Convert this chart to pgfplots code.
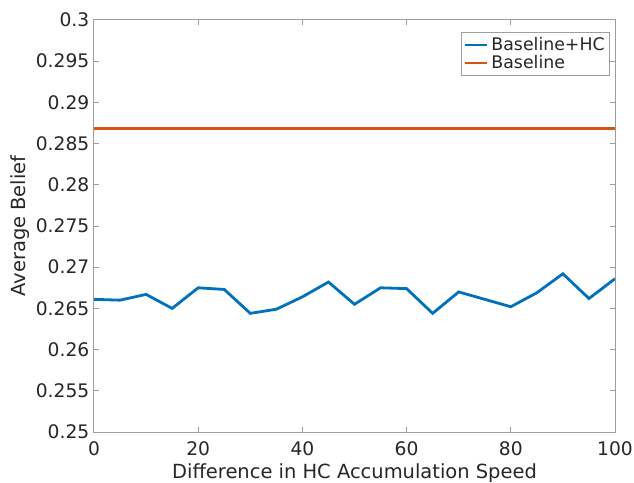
\documentclass[border=0pt]{standalone}
\usepackage{pgfplots}
\pgfplotsset{compat=1.18}
\usepackage{fontspec}
\setmainfont{DejaVu Sans}
\definecolor{mblue}{rgb}{0,0.447,0.741}
\definecolor{mred}{rgb}{0.85,0.325,0.098}
\definecolor{axgray}{rgb}{0.15,0.15,0.15}
\definecolor{linegray}{rgb}{0.62,0.62,0.62}
\begin{document}
\begin{tikzpicture}
\useasboundingbox (-70.5pt,-37.5pt) rectangle (405pt,324pt);
\begin{axis}[
  at={(0,0)}, anchor=south west,
  scale only axis,
  width=390.75pt, height=309pt,
  xmin=0, xmax=100, ymin=0.25, ymax=0.3,
  xtick={0,20,40,60,80,100},
  ytick={0.25,0.255,0.26,0.265,0.27,0.275,0.28,0.285,0.29,0.295,0.3},
  scaled y ticks=false,
  yticklabel style={/pgf/number format/fixed,/pgf/number format/precision=3},
  /pgf/number format/assume math mode=true,
  tick align=inside,
  major tick length=3.5pt,
  axis line style={linegray, line width=0.75pt},
  tick style={linegray, line width=0.75pt},
  ticklabel style={font=\fontsize{14}{16}\selectfont, text=axgray},
  xticklabel style={yshift=-4pt},
  label style={font=\fontsize{14.6}{16}\selectfont, text=axgray},
  xlabel={Difference in HC Accumulation Speed},
  ylabel={Average Belief},
  xlabel style={yshift=0pt, inner ysep=2pt},
  ylabel style={yshift=-2pt},
  legend style={at={(0.99,0.97)}, anchor=north east, draw=linegray, line width=0.75pt,
    font=\fontsize{13}{15}\selectfont, text=axgray, inner sep=1.5pt, row sep=-2pt},
  legend cell align=left,
  legend image post style={line width=2pt},
]
\addplot[mblue, line width=2.1pt] coordinates {
(0,0.2661) (5,0.2660) (10,0.2667) (15,0.2650) (20,0.2675) (25,0.2673)
(30,0.2644) (35,0.2649) (40,0.2664) (45,0.2682) (50,0.2655) (55,0.2675)
(60,0.2674) (65,0.2644) (70,0.2670) (75,0.2661) (80,0.2652) (85,0.2669)
(90,0.2692) (95,0.2662) (100,0.2686)};
\addlegendentry{Baseline+HC}
\addplot[mred, line width=2.1pt] coordinates {(0,0.2868) (100,0.2868)};
\addlegendentry{Baseline}
\end{axis}
\end{tikzpicture}
\end{document}
